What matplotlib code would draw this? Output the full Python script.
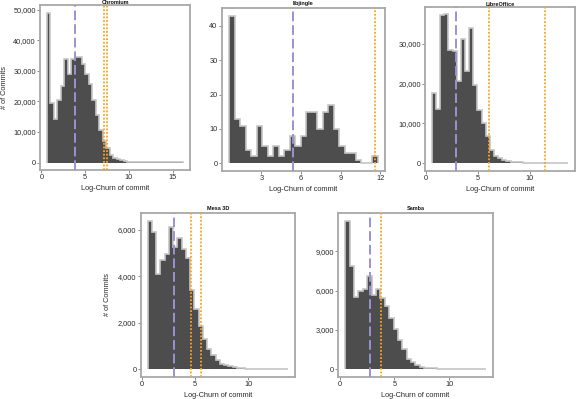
import matplotlib
matplotlib.use('Agg')
import matplotlib.pyplot as plt
import numpy as np
from matplotlib.ticker import FuncFormatter

plt.rcParams['font.family'] = ['Liberation Sans', 'DejaVu Sans']

# ---------------- data ----------------
chromium_counts = [49100, 19400, 14300, 20300, 25200, 34000, 29100, 34000, 34600, 34600,
                   32400, 29100, 25600, 20300, 15600, 10800, 6900, 4700, 2500, 1600,
                   1100, 700, 450, 300, 200, 130, 90, 60, 40, 30,
                   20, 15, 10, 8, 5, 4, 3, 2, 1]
chromium_bin_start, chromium_bin_width = 0.62, 0.40
chromium_median = 3.85
chromium_thresholds = [7.15, 7.46]

libjingle_counts = [43, 13, 11, 4, 2, 11, 5, 2, 5, 2, 4, 8, 5, 8, 15, 15, 10, 15, 17, 10,
                    5, 3, 3, 1, 0, 0, 2]
libjingle_bin_start, libjingle_bin_width = 0.55, 0.417
libjingle_median = 5.36
libjingle_thresholds = [11.63]

libreoffice_counts = [17750, 13750, 37200, 37500, 28500, 28300, 20600, 31300, 23300, 33900,
                      19600, 13300, 10200, 6800, 3300, 1900, 1250, 830, 580, 400,
                      280, 200, 140, 100, 70, 50, 35, 25, 15, 10, 6, 4, 2]
libreoffice_bin_start, libreoffice_bin_width = 0.55, 0.40
libreoffice_median = 2.84
libreoffice_thresholds = [6.1, 11.5]

mesa_counts = [6390, 5890, 4090, 4700, 4940, 6100, 5270, 5630, 5170, 4770,
               3400, 2610, 1870, 1290, 860, 600, 390, 240, 170, 120,
               85, 60, 45, 30, 22, 15, 10, 7, 5, 3, 2, 1, 1]
mesa_bin_start, mesa_bin_width = 0.53, 0.40
mesa_median = 3.0
mesa_thresholds = [4.63, 5.5]

samba_counts = [11350, 7900, 5540, 5970, 6170, 7140, 5710, 6170, 5410, 4820,
                3950, 3040, 2220, 1530, 820, 560, 360, 200, 130, 90,
                60, 40, 30, 20, 14, 10, 7, 5, 3, 2, 1, 1]
samba_bin_start, samba_bin_width = 0.52, 0.40
samba_median = 2.73
samba_thresholds = [3.76]

titles = ['Chromium', 'libjingle', 'LibreOffice', 'Mesa 3D', 'Samba']
x_label = 'Log-Churn of commit'
y_label = '# of Commits'

chromium_xticks = [0, 5, 10, 15]
libjingle_xticks = [3, 6, 9, 12]
other_xticks = [0, 5, 10]
chromium_yticks = [0, 10000, 20000, 30000, 40000, 50000]
libjingle_yticks = [0, 10, 20, 30, 40]
libreoffice_yticks = [0, 10000, 20000, 30000]
mesa_yticks = [0, 2000, 4000, 6000]
samba_yticks = [0, 3000, 6000, 9000]

# ---------------- layout (pixels) ----------------
W, H = 576, 399
panels = [
    dict(counts=chromium_counts, start=chromium_bin_start, width=chromium_bin_width,
         median=chromium_median, thr=chromium_thresholds, xt=chromium_xticks, yt=chromium_yticks,
         box=(40, 190, 5, 170), ylab=True, title_y=2.7),
    dict(counts=libjingle_counts, start=libjingle_bin_start, width=libjingle_bin_width,
         median=libjingle_median, thr=libjingle_thresholds, xt=libjingle_xticks, yt=libjingle_yticks,
         box=(221.7, 385, 8.3, 170.7), ylab=False, title_y=4),
    dict(counts=libreoffice_counts, start=libreoffice_bin_start, width=libreoffice_bin_width,
         median=libreoffice_median, thr=libreoffice_thresholds, xt=other_xticks, yt=libreoffice_yticks,
         box=(425, 575.3, 6.7, 170.7), ylab=False, title_y=4),
    dict(counts=mesa_counts, start=mesa_bin_start, width=mesa_bin_width,
         median=mesa_median, thr=mesa_thresholds, xt=other_xticks, yt=mesa_yticks,
         box=(140.7, 295, 213.3, 376.7), ylab=True, title_y=208.3),
    dict(counts=samba_counts, start=samba_bin_start, width=samba_bin_width,
         median=samba_median, thr=samba_thresholds, xt=other_xticks, yt=samba_yticks,
         box=(338.3, 492.7, 213.3, 376.7), ylab=False, title_y=208.3),
]

fig = plt.figure(figsize=(W / 100, H / 100), dpi=100)
fig.patch.set_facecolor('white')

FILL = '#4d4d4d'
EDGE = '#c6c6c6'
BLUE = '#9a92d4'
ORANGE = '#ffa31a'
SPINE = '#a8a8a8'

fmt = FuncFormatter(lambda v, p: f'{int(round(v)):,}')

for p, title in zip(panels, titles):
    l, r, t, b = p['box']
    ax = fig.add_axes([l / W, 1 - b / H, (r - l) / W, (b - t) / H])
    counts = np.array(p['counts'], dtype=float)
    n = len(counts)
    edges = p['start'] + p['width'] * np.arange(n + 1)
    ax.bar(edges[:-1], counts, width=p['width'], align='edge', color=FILL,
           edgecolor='none', linewidth=0, zorder=2)
    ax.stairs(counts, edges, baseline=0, fill=False, color=EDGE, linewidth=1.2, zorder=3)
    ax.axvline(p['median'], color=BLUE, linestyle=(0, (5, 2)), linewidth=1.4, zorder=4)
    for th in p['thr']:
        ax.axvline(th, color=ORANGE, linestyle=(0, (1, 1)), linewidth=1.3, zorder=4)

    rng = edges[-1] - edges[0]
    ax.set_xlim(edges[0] - 0.05 * rng, edges[-1] + 0.05 * rng)
    m = counts.max()
    ax.set_ylim(-0.05 * m, 1.05 * m)
    ax.set_xticks(p['xt'])
    ax.set_yticks(p['yt'])
    ax.yaxis.set_major_formatter(fmt)
    ax.tick_params(axis='both', length=2, width=0.6, color='#777777', pad=1.0,
                   labelsize=5.3, labelcolor='#2a2a2a')
    for s in ax.spines.values():
        s.set_color(SPINE)
        s.set_linewidth(1.3)
    ax.set_facecolor('white')

    hpx = b - t
    wpx = r - l
    ax.text(0.5, 1 + (t - p['title_y']) / hpx, title, transform=ax.transAxes,
            ha='center', va='center', fontsize=4, fontweight='bold', color='#111111')
    ax.text(0.5, -(189 - 170) / 165, x_label, transform=ax.transAxes,
            ha='center', va='center', fontsize=5.3, color='#2a2a2a')
    if p['ylab']:
        xoff = 5 if l < 100 else 107.3
        ax.text(-(l - xoff) / wpx, 0.5, y_label, transform=ax.transAxes, rotation=90,
                ha='center', va='center', fontsize=5.3, color='#2a2a2a')

fig.savefig('out.png', dpi=100, facecolor='white')
